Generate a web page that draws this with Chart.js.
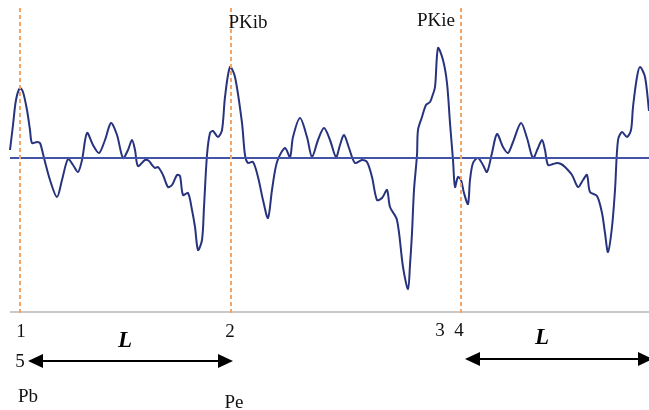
<!DOCTYPE html>
<html>
<head>
<meta charset="utf-8">
<script src="https://cdn.jsdelivr.net/npm/chart.js@4.4.1/dist/chart.umd.min.js"></script>
<style>
  html, body { margin: 0; padding: 0; background: #ffffff; }
  canvas { display: block; }
</style>
</head>
<body>
<canvas id="content" width="649" height="410"></canvas>
<script>
// signal samples: position along the record and amplitude against the mean line
var signalX = [10,13,16,20,23,27,30,32,37,40,44,50,57,62,68,73,78,82,87,93,99,105,111,117,123,128,132,135,138,145,149,152,155,158,163,168,172,177,180,183,188,192,195,198,202,204,207,210,213,218,222,225,230,235,242,245,248,253,258,263,268,272,277,285,290,293,300,307,312,318,324,330,336,340,344,349,355,362,367,372,377,382,387,390,397,403,408,410,412,414,417,418,422,426,430,432,435,438,443,447,450,453,455,458,461,464,468,470,473,478,483,487,492,497,503,508,513,521,527,533,538,542,545,548,553,557,561,565,572,578,583,587,590,597,602,605,608,612,615,618,622,627,631,633,637,640,645,649];
var signalY = [8,33,58,70,66,48,28,15,16,15,0,-22,-39,-22,-1,-7,-14,-2,25,13,5,18,35,23,0,8,18,8,-8,-2,-3,-7,-10,-9,-17,-29,-27,-17,-18,-37,-35,-52,-69,-92,-82,-49,3,25,27,21,28,61,91,81,35,3,-5,-4,-19,-42,-60,-32,-4,10,1,21,40,21,1,18,30,18,1,13,23,10,-5,-2,-4,-19,-42,-40,-32,-49,-62,-109,-131,-107,-75,-32,3,28,41,53,56,61,71,110,98,75,35,-2,-29,-19,-22,-35,-46,-22,-5,0,-7,-14,5,24,11,5,16,35,20,0,10,18,8,-7,-6,-5,-6,-9,-17,-29,-22,-17,-34,-38,-55,-75,-94,-69,-32,18,26,21,28,51,81,91,81,47];

// cycle markers under the trace
var markerX = [20, 231, 439, 461];
var markerLabels = ["1", "2", "3", "4"];
var dashedMarkers = [0, 1, 3];

// peak labels and span labels
var peakLabels = ["PKib", "PKie"];
var spanStart = [20, 461];
var spanEnd = [231, 649];

var points = signalX.map(function (x, i) { return { x: x, y: signalY[i] }; });

var datasets = [];
dashedMarkers.forEach(function (m) {
  datasets.push({
    data: [{ x: markerX[m], y: 150 }, { x: markerX[m], y: -158 }],
    borderColor: "#f3a467",
    borderWidth: 2,
    borderDash: [4, 3],
    pointRadius: 0
  });
});
datasets.push({
  data: [{ x: 10, y: -154 }, { x: 649, y: -154 }],
  borderColor: "#c9c9c9",
  borderWidth: 2,
  pointRadius: 0
});
datasets.push({
  data: [{ x: 10, y: 0 }, { x: 649, y: 0 }],
  borderColor: "#4353a6",
  borderWidth: 2,
  pointRadius: 0
});
datasets.push({
  data: points,
  borderColor: "#27337d",
  borderWidth: 2,
  pointRadius: 0,
  tension: 0.3
});

function arrow(ctx, x1, x2, y) {
  var head = 15, half = 7;
  ctx.strokeStyle = "#000";
  ctx.fillStyle = "#000";
  ctx.lineWidth = 2;
  ctx.beginPath();
  ctx.moveTo(x1 + head - 2, y);
  ctx.lineTo(x2 - head + 2, y);
  ctx.stroke();
  ctx.beginPath();
  ctx.moveTo(x1, y);
  ctx.lineTo(x1 + head, y - half);
  ctx.lineTo(x1 + head, y + half);
  ctx.closePath();
  ctx.fill();
  ctx.beginPath();
  ctx.moveTo(x2, y);
  ctx.lineTo(x2 - head, y - half);
  ctx.lineTo(x2 - head, y + half);
  ctx.closePath();
  ctx.fill();
}

var labelPlugin = {
  id: "labels",
  afterDraw: function (chart) {
    var ctx = chart.ctx;
    var xs = chart.scales.x;
    var px = function (v) { return xs.getPixelForValue(v); };
    ctx.save();
    ctx.fillStyle = "#111";
    ctx.textAlign = "center";
    ctx.textBaseline = "middle";
    ctx.font = "19px 'Liberation Serif', serif";
    ctx.fillText(markerLabels[0], px(markerX[0]) + 1, 332);
    ctx.fillText(markerLabels[1], px(markerX[1]) - 1, 332);
    ctx.fillText(markerLabels[2], px(markerX[2]) + 1, 331);
    ctx.fillText(markerLabels[3], px(markerX[3]) - 2, 331);
    ctx.fillText("5", 20, 362);

    ctx.font = "19px 'Liberation Serif', serif";
    ctx.fillText(peakLabels[0], px(markerX[1]) + 17, 23);
    ctx.fillText(peakLabels[1], px(markerX[2]) - 3, 21);
    ctx.fillText("Pb", 28, 397);
    ctx.fillText("Pe", 234, 403);

    arrow(ctx, px(spanStart[0]) + 8, px(spanEnd[0]) + 2, 361);
    arrow(ctx, px(spanStart[1]) + 4, px(spanEnd[1]) + 4, 359);

    ctx.font = "italic bold 23px 'Liberation Serif', serif";
    ctx.fillText("L", 125, 341);
    ctx.fillText("L", 542, 338);
    ctx.restore();
  }
};

new Chart("content", {
  type: "line",
  data: { datasets: datasets },
  options: {
    responsive: false,
    animation: false,
    devicePixelRatio: 1,
    layout: { padding: 0 },
    plugins: { legend: { display: false }, tooltip: { enabled: false } },
    scales: {
      x: { type: "linear", min: 0, max: 649, display: false },
      y: { type: "linear", min: -252, max: 158, display: false }
    }
  },
  plugins: [labelPlugin]
});
</script>
</body>
</html>
